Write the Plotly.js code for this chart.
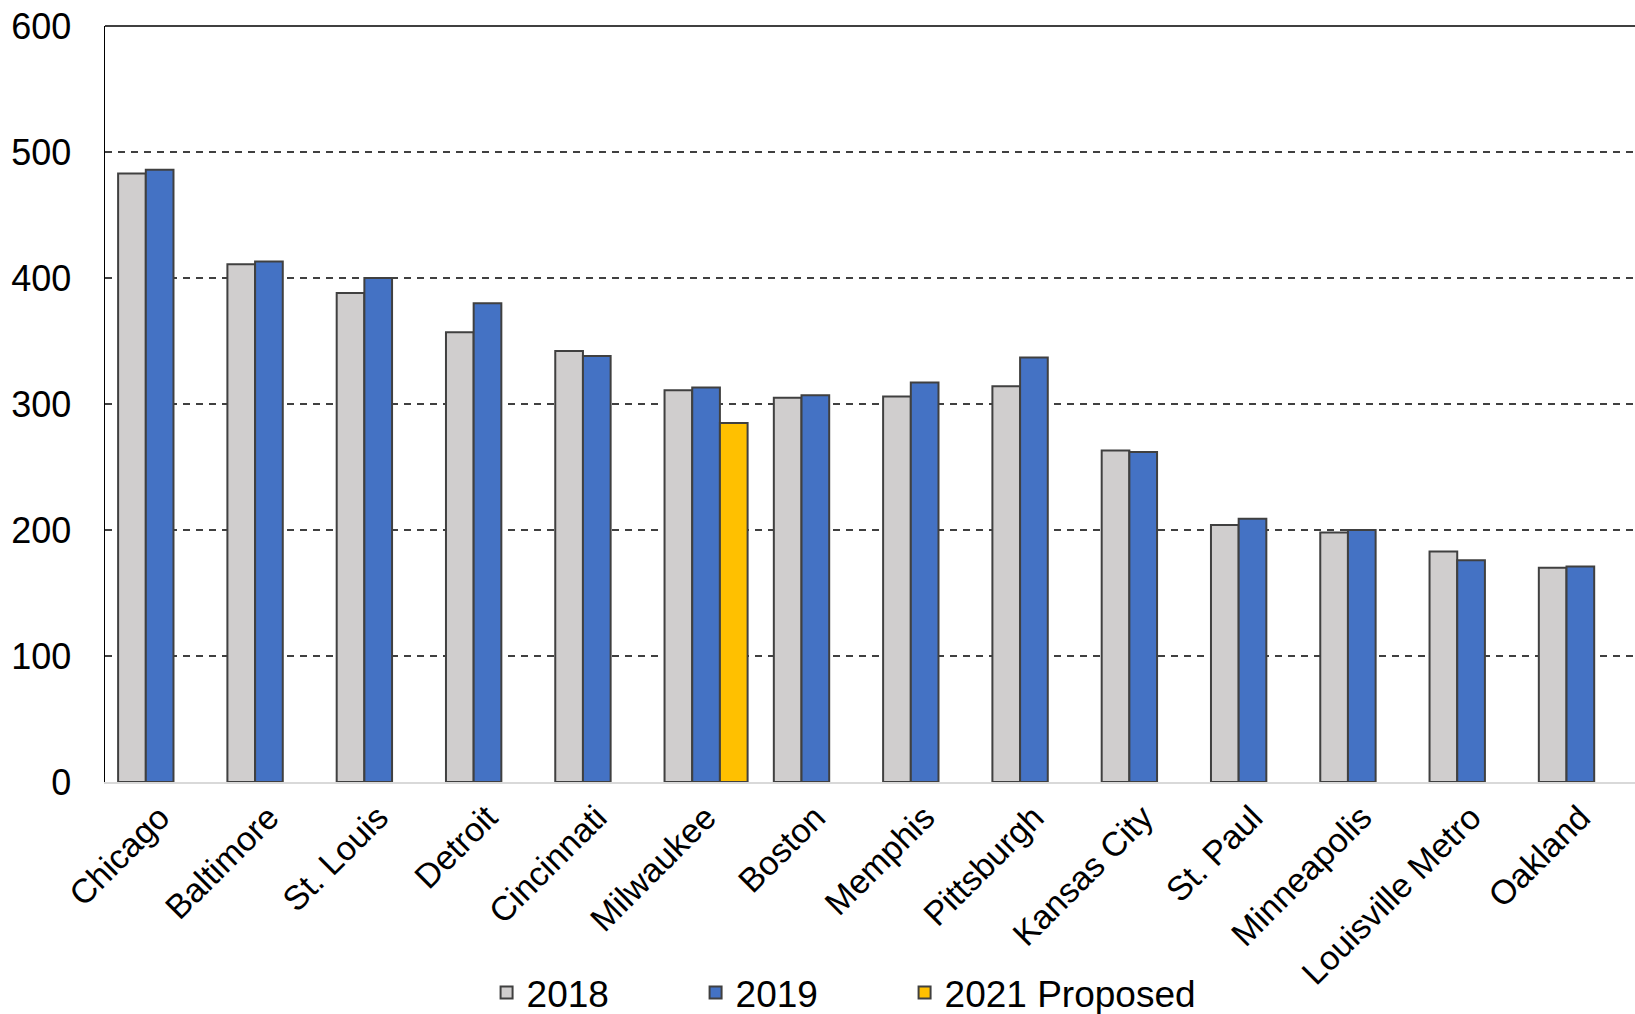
<!DOCTYPE html>
<html>
<head>
<meta charset="utf-8">
<script src="https://cdn.plot.ly/plotly-3.0.1.min.js"></script>
<style>html,body{margin:0;padding:0;background:#fff;}#chart{width:1635px;height:1014px;}</style>
</head>
<body>
<div id="chart"></div>
<script>
const categories = ["Chicago","Baltimore","St. Louis","Detroit","Cincinnati","Milwaukee","Boston","Memphis","Pittsburgh","Kansas City","St. Paul","Minneapolis","Louisville Metro","Oakland"];
const values2018 = [483, 411, 388, 357, 342, 311, 305, 306, 314, 263, 204, 198, 183, 170];
const values2019 = [486, 413, 400, 380, 338, 313, 307, 317, 337, 262, 209, 200, 176, 171];
const values2021 = [null, null, null, null, null, 285, null, null, null, null, null, null, null, null];
const seriesNames = ["2018", "2019", "2021 Proposed"];
const yTicks = [0, 100, 200, 300, 400, 500, 600];

const FONT = '"Liberation Sans", Arial, sans-serif';
const outline = {color: '#404040', width: 2};

const traces = [
  {type: 'bar', name: seriesNames[0], x: categories, y: values2018, marker: {color: '#D0CECE', line: outline}, legend: 'legend'},
  {type: 'bar', name: seriesNames[1], x: categories, y: values2019, marker: {color: '#4472C4', line: outline}, legend: 'legend2'},
  {type: 'bar', name: seriesNames[2], x: categories, y: values2021, marker: {color: '#FFC000', line: outline}, legend: 'legend3'}
];

function leg(x) {
  return {
    orientation: 'h', x: x, xanchor: 'left', y: -0.279, yanchor: 'middle',
    font: {family: FONT, size: 37, color: '#000'},
    bgcolor: 'rgba(0,0,0,0)', itemclick: false
  };
}

const layout = {
  width: 1635, height: 1014,
  paper_bgcolor: '#fff', plot_bgcolor: '#fff',
  font: {family: FONT, color: '#000', size: 36},
  margin: {l: 105, r: 0, t: 26, b: 232, autoexpand: false},
  barmode: 'group', bargap: 0.24, bargroupgap: 0,
  showlegend: true,
  legend: leg(0.2494),
  legend2: leg(0.386),
  legend3: leg(0.5226),
  xaxis: {
    type: 'category', tickangle: -45,
    tickfont: {family: FONT, size: 34, color: '#000'},
    showline: true, linecolor: '#D9D9D9', linewidth: 2,
    ticks: '', showgrid: false, fixedrange: true
  },
  yaxis: {
    range: [0, 600], tickvals: yTicks, ticktext: yTicks.map(String),
    tickfont: {family: FONT, size: 36, color: '#000'},
    showline: true, linecolor: '#000', linewidth: 1.5,
    ticks: '', ticklabelstandoff: 25,
    showgrid: true, gridcolor: '#404040', gridwidth: 2, griddash: '7px,6px',
    zeroline: false, fixedrange: true
  },
  shapes: [
    {type: 'line', xref: 'paper', yref: 'paper', x0: 0, x1: 1, y0: 1, y1: 1, line: {color: '#000', width: 1.5}}
  ]
};

Plotly.newPlot('chart', traces, layout, {displayModeBar: false, staticPlot: true});
</script>
</body>
</html>
